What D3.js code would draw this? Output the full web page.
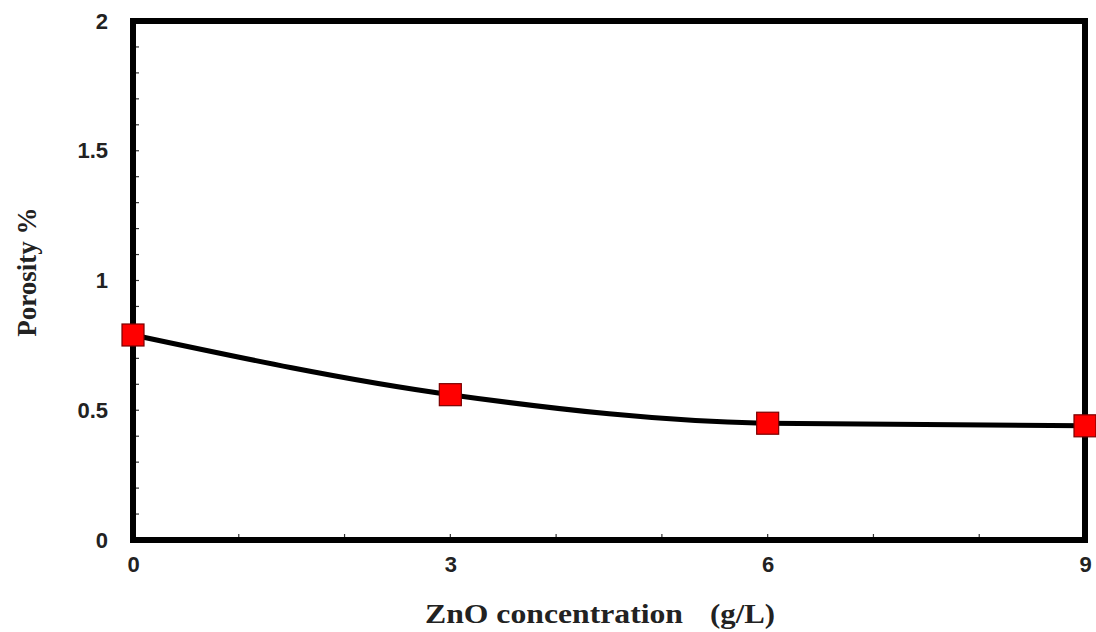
<!DOCTYPE html>
<html>
<head>
<meta charset="utf-8">
<script src="https://cdn.jsdelivr.net/npm/d3@7"></script>
<style>
  body { margin: 0; background: #fff; }
  .tick text { font-family: "Liberation Sans", Arial, sans-serif; font-weight: bold; font-size: 22px; fill: #222; }
  .title { font-family: "Liberation Serif", "Times New Roman", serif; font-weight: bold; fill: #222; }
</style>
</head>
<body>
<div class="chart"></div>
<script>
// data
var concentration = [0, 3, 6, 9];
var porosity = [0.79, 0.56, 0.45, 0.44];
var xTicks = [0, 3, 6, 9];
var yTicks = [0, 0.5, 1, 1.5, 2];

var svgWidth = 1096, svgHeight = 632;
var margin = { top: 21, right: 11, bottom: 92, left: 133 };
var width = svgWidth - margin.left - margin.right;
var height = svgHeight - margin.top - margin.bottom;

var svg = d3.select(".chart").append("svg")
  .attr("width", svgWidth)
  .attr("height", svgHeight);

var chartGroup = svg.append("g")
  .attr("transform", `translate(${margin.left}, ${margin.top})`);

var xScale = d3.scaleLinear().domain([0, 9]).range([0, width]);
var yScale = d3.scaleLinear().domain([0, 2]).range([height, 0]);

// minor ticks inside the frame
chartGroup.append("g").selectAll("line")
  .data(d3.range(1, 20).map(d => d / 10))
  .enter().append("line")
  .attr("x1", 0).attr("x2", 6)
  .attr("y1", d => yScale(d)).attr("y2", d => yScale(d))
  .attr("stroke", "#333").attr("stroke-width", 1.2);

chartGroup.append("g").selectAll("line")
  .data(d3.range(1, 9))
  .enter().append("line")
  .attr("x1", d => xScale(d)).attr("x2", d => xScale(d))
  .attr("y1", height).attr("y2", height - 6)
  .attr("stroke", "#333").attr("stroke-width", 1.2);

// axes (labels only, frame drawn separately)
var xAxis = d3.axisBottom(xScale).tickValues(xTicks).tickSize(0).tickPadding(16).tickFormat(d3.format("d"));
var yAxis = d3.axisLeft(yScale).tickValues(yTicks).tickSize(0).tickPadding(25).tickFormat(d => d);

var gx = chartGroup.append("g").attr("transform", `translate(0, ${height})`).call(xAxis);
var gy = chartGroup.append("g").call(yAxis);
gx.select(".domain").remove();
gy.select(".domain").remove();

// frame
chartGroup.append("rect")
  .attr("x", 0).attr("y", 0)
  .attr("width", width).attr("height", height)
  .attr("fill", "none")
  .attr("stroke", "#000")
  .attr("stroke-width", 6);

// curve
var line = d3.line()
  .x((d, i) => xScale(concentration[i]))
  .y(d => yScale(d))
  .curve(d3.curveMonotoneX);

chartGroup.append("path")
  .datum(porosity)
  .attr("d", line)
  .attr("fill", "none")
  .attr("stroke", "#000")
  .attr("stroke-width", 5);

// markers
chartGroup.append("g").selectAll("rect")
  .data(porosity)
  .enter().append("rect")
  .attr("x", (d, i) => xScale(concentration[i]) - 11)
  .attr("y", d => yScale(d) - 11)
  .attr("width", 22).attr("height", 22)
  .attr("fill", "#ff0000")
  .attr("stroke", "#7a0000")
  .attr("stroke-width", 1.2);

// titles (the original type is a wide bold serif, so stretch it a little)
svg.append("text")
  .attr("class", "title")
  .attr("font-size", "28px")
  .attr("x", 425).attr("y", 623)
  .attr("textLength", 258)
  .attr("lengthAdjust", "spacingAndGlyphs")
  .text("ZnO concentration");

svg.append("text")
  .attr("class", "title")
  .attr("font-size", "28px")
  .attr("x", 710).attr("y", 623)
  .attr("textLength", 65)
  .attr("lengthAdjust", "spacingAndGlyphs")
  .text("(g/L)");

svg.append("text")
  .attr("class", "title")
  .attr("text-anchor", "middle")
  .attr("font-size", "27px")
  .attr("transform", "translate(36, 272) rotate(-90)")
  .text("Porosity %");
</script>
</body>
</html>
